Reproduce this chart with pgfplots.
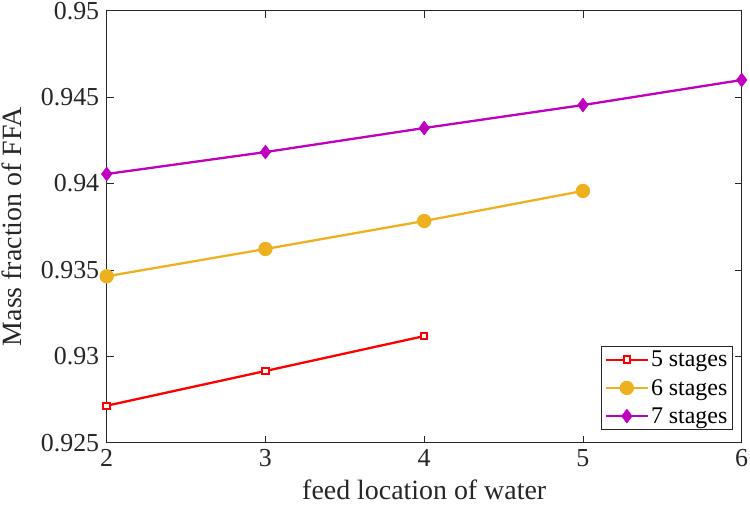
\documentclass[border=0pt]{standalone}
\usepackage{pgfplots}
\pgfplotsset{compat=1.18}
\usepackage{fontspec}
\setmainfont{Liberation Serif}
\definecolor{mred}{rgb}{1,0,0}
\definecolor{myel}{rgb}{0.929,0.694,0.125}
\definecolor{mmag}{rgb}{0.75,0,0.75}
\definecolor{axgray}{rgb}{0.15,0.15,0.15}
\begin{document}
\begin{tikzpicture}
\path[use as bounding box] (-106.7bp,-73.3bp) rectangle (643.3bp,442.7bp);
\begin{axis}[
  at={(0,0)}, anchor=south west,
  scale only axis, width=635bp, height=432bp,
  xmin=2, xmax=6, ymin=0.925, ymax=0.95,
  xtick={2,3,4,5,6},
  ytick={0.925,0.93,0.935,0.94,0.945,0.95},
  yticklabels={0.925,0.93,0.935,0.94,0.945,0.95},
  scaled y ticks=false,
  tick align=inside, tick pos=both,
  major tick length=7bp,
  axis line style={axgray, line width=0.6bp},
  tick style={axgray, line width=0.6bp},
  /pgf/number format/assume math mode=true,
  ticklabel style={font=\fontsize{26}{26}\selectfont, text=axgray},
  xticklabel style={yshift=-3bp},
  yticklabel style={xshift=-4bp},
  xlabel={feed location of water},
  ylabel={Mass fraction of FFA},
  label style={font=\fontsize{28}{28}\selectfont, text=axgray},
  xlabel style={yshift=-6bp},
  ylabel style={yshift=12bp},
  legend style={at={(0.9858,0.0294)}, anchor=south east, draw=axgray, line width=0.6bp,
    font=\fontsize{24}{26}\selectfont, inner sep=3bp, row sep=7bp},
  legend cell align=left,
  legend image code/.code={\draw[#1] (0bp,0bp) -- (21bp,0bp) -- (42bp,0bp); \draw[#1,only marks] plot coordinates {(21bp,0bp)};},
]
\addplot[mred, line width=2.3bp, mark=square*, mark size=3.2bp, mark options={fill=white, line width=2bp}] coordinates {
 (2,0.92714) (3,0.92915) (4,0.93117)};
\addlegendentry{5 stages}
\addplot[myel, line width=2.3bp, mark=*, mark size=6bp, mark options={fill=myel}] coordinates {
 (2,0.93463) (3,0.93621) (4,0.93783) (5,0.93957)};
\addlegendentry{6 stages}
\addplot[mmag, line width=2.3bp, mark=diamond*, mark size=7bp, mark options={fill=mmag, line width=0.5bp}] coordinates {
 (2,0.94055) (3,0.94182) (4,0.94321) (5,0.94454) (6,0.94599)};
\addlegendentry{7 stages}
\end{axis}
\end{tikzpicture}
\end{document}
